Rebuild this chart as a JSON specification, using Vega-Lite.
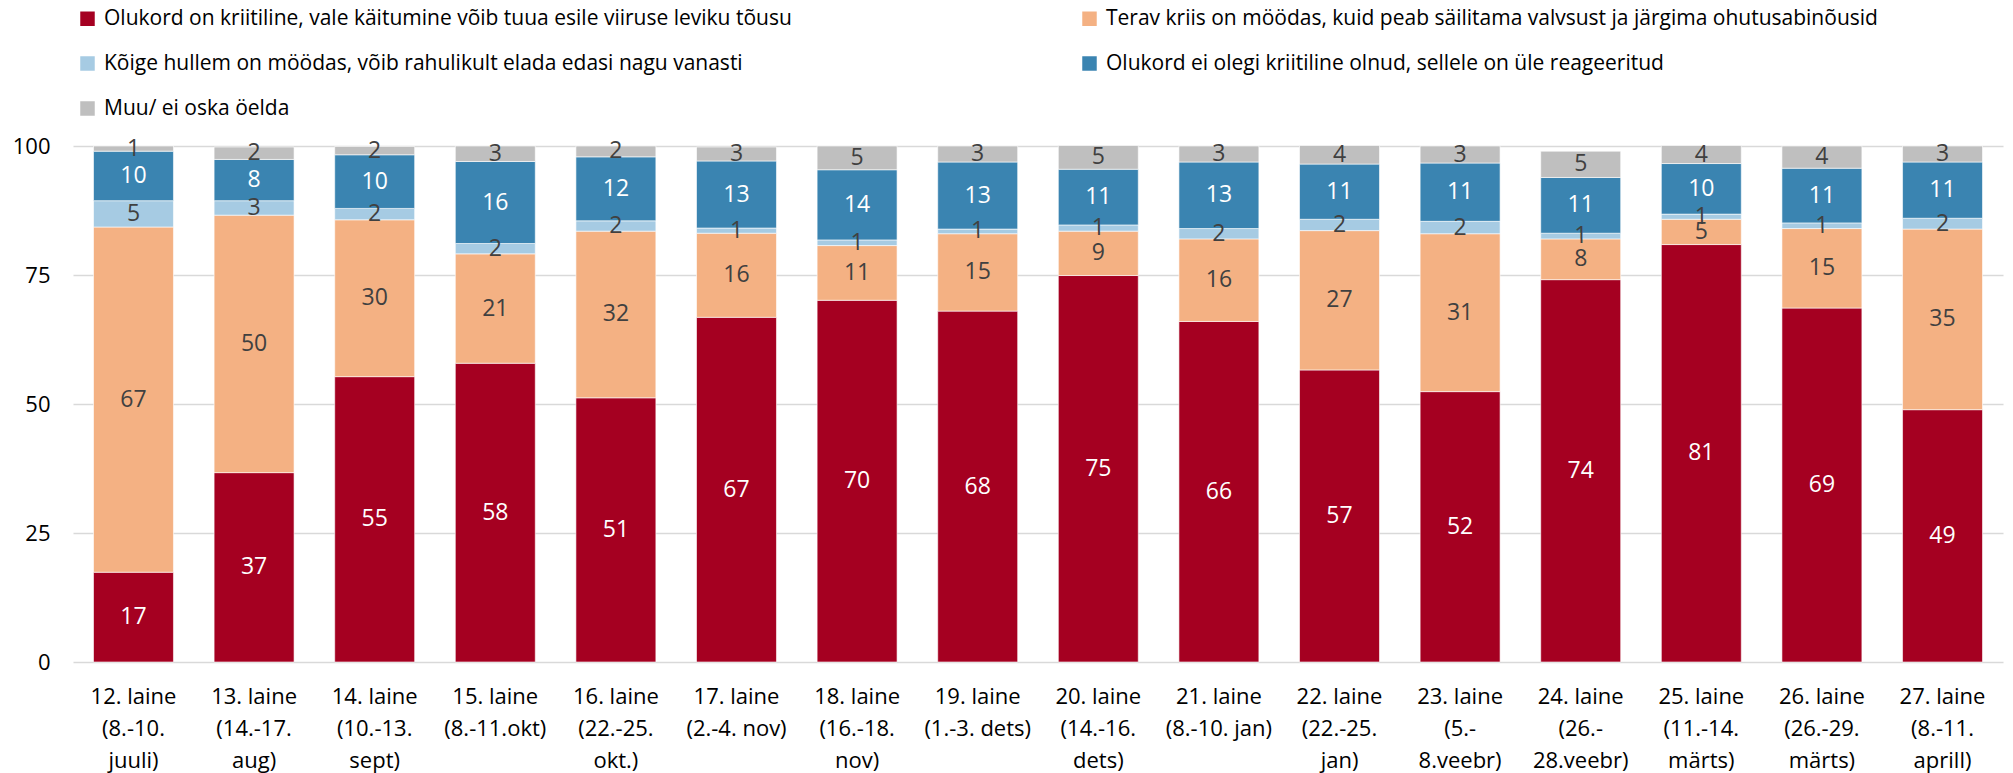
{
  "$schema": "https://vega.github.io/schema/vega-lite/v6.json",
  "width": 1930,
  "height": 516,
  "autosize": "none",
  "padding": {"left": 73, "top": 146, "right": 10, "bottom": 111},
  "config": {"view": {"stroke": null}, "font": "Open Sans"},
  "data": {
    "values": [
      {"wave": "12. laine|(8.-10.|juuli)", "cat": "Olukord on kriitiline, vale käitumine võib tuua esile viiruse leviku tõusu", "order": 1, "value": 17.4},
      {"wave": "12. laine|(8.-10.|juuli)", "cat": "Terav kriis on möödas, kuid peab säilitama valvsust ja järgima ohutusabinõusid", "order": 2, "value": 66.9},
      {"wave": "12. laine|(8.-10.|juuli)", "cat": "Kõige hullem on möödas, võib rahulikult elada edasi nagu vanasti", "order": 3, "value": 5.1},
      {"wave": "12. laine|(8.-10.|juuli)", "cat": "Olukord ei olegi kriitiline olnud, sellele on üle reageeritud", "order": 4, "value": 9.6},
      {"wave": "12. laine|(8.-10.|juuli)", "cat": "Muu/ ei oska öelda", "order": 5, "value": 1.0},

      {"wave": "13. laine|(14.-17.|aug)", "cat": "Olukord on kriitiline, vale käitumine võib tuua esile viiruse leviku tõusu", "order": 1, "value": 36.7},
      {"wave": "13. laine|(14.-17.|aug)", "cat": "Terav kriis on möödas, kuid peab säilitama valvsust ja järgima ohutusabinõusid", "order": 2, "value": 49.9},
      {"wave": "13. laine|(14.-17.|aug)", "cat": "Kõige hullem on möödas, võib rahulikult elada edasi nagu vanasti", "order": 3, "value": 2.8},
      {"wave": "13. laine|(14.-17.|aug)", "cat": "Olukord ei olegi kriitiline olnud, sellele on üle reageeritud", "order": 4, "value": 8.0},
      {"wave": "13. laine|(14.-17.|aug)", "cat": "Muu/ ei oska öelda", "order": 5, "value": 2.4},

      {"wave": "14. laine|(10.-13.|sept)", "cat": "Olukord on kriitiline, vale käitumine võib tuua esile viiruse leviku tõusu", "order": 1, "value": 55.3},
      {"wave": "14. laine|(10.-13.|sept)", "cat": "Terav kriis on möödas, kuid peab säilitama valvsust ja järgima ohutusabinõusid", "order": 2, "value": 30.4},
      {"wave": "14. laine|(10.-13.|sept)", "cat": "Kõige hullem on möödas, võib rahulikult elada edasi nagu vanasti", "order": 3, "value": 2.2},
      {"wave": "14. laine|(10.-13.|sept)", "cat": "Olukord ei olegi kriitiline olnud, sellele on üle reageeritud", "order": 4, "value": 10.4},
      {"wave": "14. laine|(10.-13.|sept)", "cat": "Muu/ ei oska öelda", "order": 5, "value": 1.6},

      {"wave": "15. laine|(8.-11.okt)", "cat": "Olukord on kriitiline, vale käitumine võib tuua esile viiruse leviku tõusu", "order": 1, "value": 57.9},
      {"wave": "15. laine|(8.-11.okt)", "cat": "Terav kriis on möödas, kuid peab säilitama valvsust ja järgima ohutusabinõusid", "order": 2, "value": 21.2},
      {"wave": "15. laine|(8.-11.okt)", "cat": "Kõige hullem on möödas, võib rahulikult elada edasi nagu vanasti", "order": 3, "value": 2.0},
      {"wave": "15. laine|(8.-11.okt)", "cat": "Olukord ei olegi kriitiline olnud, sellele on üle reageeritud", "order": 4, "value": 15.9},
      {"wave": "15. laine|(8.-11.okt)", "cat": "Muu/ ei oska öelda", "order": 5, "value": 3.0},

      {"wave": "16. laine|(22.-25.|okt.)", "cat": "Olukord on kriitiline, vale käitumine võib tuua esile viiruse leviku tõusu", "order": 1, "value": 51.2},
      {"wave": "16. laine|(22.-25.|okt.)", "cat": "Terav kriis on möödas, kuid peab säilitama valvsust ja järgima ohutusabinõusid", "order": 2, "value": 32.3},
      {"wave": "16. laine|(22.-25.|okt.)", "cat": "Kõige hullem on möödas, võib rahulikult elada edasi nagu vanasti", "order": 3, "value": 2.0},
      {"wave": "16. laine|(22.-25.|okt.)", "cat": "Olukord ei olegi kriitiline olnud, sellele on üle reageeritud", "order": 4, "value": 12.4},
      {"wave": "16. laine|(22.-25.|okt.)", "cat": "Muu/ ei oska öelda", "order": 5, "value": 2.1},

      {"wave": "17. laine|(2.-4. nov)", "cat": "Olukord on kriitiline, vale käitumine võib tuua esile viiruse leviku tõusu", "order": 1, "value": 66.8},
      {"wave": "17. laine|(2.-4. nov)", "cat": "Terav kriis on möödas, kuid peab säilitama valvsust ja järgima ohutusabinõusid", "order": 2, "value": 16.3},
      {"wave": "17. laine|(2.-4. nov)", "cat": "Kõige hullem on möödas, võib rahulikult elada edasi nagu vanasti", "order": 3, "value": 1.0},
      {"wave": "17. laine|(2.-4. nov)", "cat": "Olukord ei olegi kriitiline olnud, sellele on üle reageeritud", "order": 4, "value": 13.0},
      {"wave": "17. laine|(2.-4. nov)", "cat": "Muu/ ei oska öelda", "order": 5, "value": 2.7},

      {"wave": "18. laine|(16.-18.|nov)", "cat": "Olukord on kriitiline, vale käitumine võib tuua esile viiruse leviku tõusu", "order": 1, "value": 70.1},
      {"wave": "18. laine|(16.-18.|nov)", "cat": "Terav kriis on möödas, kuid peab säilitama valvsust ja järgima ohutusabinõusid", "order": 2, "value": 10.6},
      {"wave": "18. laine|(16.-18.|nov)", "cat": "Kõige hullem on möödas, võib rahulikult elada edasi nagu vanasti", "order": 3, "value": 1.1},
      {"wave": "18. laine|(16.-18.|nov)", "cat": "Olukord ei olegi kriitiline olnud, sellele on üle reageeritud", "order": 4, "value": 13.6},
      {"wave": "18. laine|(16.-18.|nov)", "cat": "Muu/ ei oska öelda", "order": 5, "value": 4.6},

      {"wave": "19. laine|(1.-3. dets)", "cat": "Olukord on kriitiline, vale käitumine võib tuua esile viiruse leviku tõusu", "order": 1, "value": 68.0},
      {"wave": "19. laine|(1.-3. dets)", "cat": "Terav kriis on möödas, kuid peab säilitama valvsust ja järgima ohutusabinõusid", "order": 2, "value": 15.0},
      {"wave": "19. laine|(1.-3. dets)", "cat": "Kõige hullem on möödas, võib rahulikult elada edasi nagu vanasti", "order": 3, "value": 0.9},
      {"wave": "19. laine|(1.-3. dets)", "cat": "Olukord ei olegi kriitiline olnud, sellele on üle reageeritud", "order": 4, "value": 13.0},
      {"wave": "19. laine|(1.-3. dets)", "cat": "Muu/ ei oska öelda", "order": 5, "value": 3.1},

      {"wave": "20. laine|(14.-16.|dets)", "cat": "Olukord on kriitiline, vale käitumine võib tuua esile viiruse leviku tõusu", "order": 1, "value": 74.9},
      {"wave": "20. laine|(14.-16.|dets)", "cat": "Terav kriis on möödas, kuid peab säilitama valvsust ja järgima ohutusabinõusid", "order": 2, "value": 8.6},
      {"wave": "20. laine|(14.-16.|dets)", "cat": "Kõige hullem on möödas, võib rahulikult elada edasi nagu vanasti", "order": 3, "value": 1.2},
      {"wave": "20. laine|(14.-16.|dets)", "cat": "Olukord ei olegi kriitiline olnud, sellele on üle reageeritud", "order": 4, "value": 10.8},
      {"wave": "20. laine|(14.-16.|dets)", "cat": "Muu/ ei oska öelda", "order": 5, "value": 4.6},

      {"wave": "21. laine|(8.-10. jan)", "cat": "Olukord on kriitiline, vale käitumine võib tuua esile viiruse leviku tõusu", "order": 1, "value": 66.0},
      {"wave": "21. laine|(8.-10. jan)", "cat": "Terav kriis on möödas, kuid peab säilitama valvsust ja järgima ohutusabinõusid", "order": 2, "value": 16.0},
      {"wave": "21. laine|(8.-10. jan)", "cat": "Kõige hullem on möödas, võib rahulikult elada edasi nagu vanasti", "order": 3, "value": 2.0},
      {"wave": "21. laine|(8.-10. jan)", "cat": "Olukord ei olegi kriitiline olnud, sellele on üle reageeritud", "order": 4, "value": 12.9},
      {"wave": "21. laine|(8.-10. jan)", "cat": "Muu/ ei oska öelda", "order": 5, "value": 3.1},

      {"wave": "22. laine|(22.-25.|jan)", "cat": "Olukord on kriitiline, vale käitumine võib tuua esile viiruse leviku tõusu", "order": 1, "value": 56.6},
      {"wave": "22. laine|(22.-25.|jan)", "cat": "Terav kriis on möödas, kuid peab säilitama valvsust ja järgima ohutusabinõusid", "order": 2, "value": 27.0},
      {"wave": "22. laine|(22.-25.|jan)", "cat": "Kõige hullem on möödas, võib rahulikult elada edasi nagu vanasti", "order": 3, "value": 2.2},
      {"wave": "22. laine|(22.-25.|jan)", "cat": "Olukord ei olegi kriitiline olnud, sellele on üle reageeritud", "order": 4, "value": 10.7},
      {"wave": "22. laine|(22.-25.|jan)", "cat": "Muu/ ei oska öelda", "order": 5, "value": 3.6},

      {"wave": "23. laine|(5.-|8.veebr)", "cat": "Olukord on kriitiline, vale käitumine võib tuua esile viiruse leviku tõusu", "order": 1, "value": 52.4},
      {"wave": "23. laine|(5.-|8.veebr)", "cat": "Terav kriis on möödas, kuid peab säilitama valvsust ja järgima ohutusabinõusid", "order": 2, "value": 30.6},
      {"wave": "23. laine|(5.-|8.veebr)", "cat": "Kõige hullem on möödas, võib rahulikult elada edasi nagu vanasti", "order": 3, "value": 2.4},
      {"wave": "23. laine|(5.-|8.veebr)", "cat": "Olukord ei olegi kriitiline olnud, sellele on üle reageeritud", "order": 4, "value": 11.3},
      {"wave": "23. laine|(5.-|8.veebr)", "cat": "Muu/ ei oska öelda", "order": 5, "value": 3.3},

      {"wave": "24. laine|(26.-|28.veebr)", "cat": "Olukord on kriitiline, vale käitumine võib tuua esile viiruse leviku tõusu", "order": 1, "value": 74.1},
      {"wave": "24. laine|(26.-|28.veebr)", "cat": "Terav kriis on möödas, kuid peab säilitama valvsust ja järgima ohutusabinõusid", "order": 2, "value": 7.9},
      {"wave": "24. laine|(26.-|28.veebr)", "cat": "Kõige hullem on möödas, võib rahulikult elada edasi nagu vanasti", "order": 3, "value": 1.1},
      {"wave": "24. laine|(26.-|28.veebr)", "cat": "Olukord ei olegi kriitiline olnud, sellele on üle reageeritud", "order": 4, "value": 10.8},
      {"wave": "24. laine|(26.-|28.veebr)", "cat": "Muu/ ei oska öelda", "order": 5, "value": 5.1},

      {"wave": "25. laine|(11.-14.|märts)", "cat": "Olukord on kriitiline, vale käitumine võib tuua esile viiruse leviku tõusu", "order": 1, "value": 80.9},
      {"wave": "25. laine|(11.-14.|märts)", "cat": "Terav kriis on möödas, kuid peab säilitama valvsust ja järgima ohutusabinõusid", "order": 2, "value": 4.9},
      {"wave": "25. laine|(11.-14.|märts)", "cat": "Kõige hullem on möödas, võib rahulikult elada edasi nagu vanasti", "order": 3, "value": 1.0},
      {"wave": "25. laine|(11.-14.|märts)", "cat": "Olukord ei olegi kriitiline olnud, sellele on üle reageeritud", "order": 4, "value": 9.8},
      {"wave": "25. laine|(11.-14.|märts)", "cat": "Muu/ ei oska öelda", "order": 5, "value": 3.5},

      {"wave": "26. laine|(26.-29.|märts)", "cat": "Olukord on kriitiline, vale käitumine võib tuua esile viiruse leviku tõusu", "order": 1, "value": 68.6},
      {"wave": "26. laine|(26.-29.|märts)", "cat": "Terav kriis on möödas, kuid peab säilitama valvsust ja järgima ohutusabinõusid", "order": 2, "value": 15.4},
      {"wave": "26. laine|(26.-29.|märts)", "cat": "Kõige hullem on möödas, võib rahulikult elada edasi nagu vanasti", "order": 3, "value": 1.1},
      {"wave": "26. laine|(26.-29.|märts)", "cat": "Olukord ei olegi kriitiline olnud, sellele on üle reageeritud", "order": 4, "value": 10.6},
      {"wave": "26. laine|(26.-29.|märts)", "cat": "Muu/ ei oska öelda", "order": 5, "value": 4.3},

      {"wave": "27. laine|(8.-11.|aprill)", "cat": "Olukord on kriitiline, vale käitumine võib tuua esile viiruse leviku tõusu", "order": 1, "value": 48.9},
      {"wave": "27. laine|(8.-11.|aprill)", "cat": "Terav kriis on möödas, kuid peab säilitama valvsust ja järgima ohutusabinõusid", "order": 2, "value": 35.0},
      {"wave": "27. laine|(8.-11.|aprill)", "cat": "Kõige hullem on möödas, võib rahulikult elada edasi nagu vanasti", "order": 3, "value": 2.1},
      {"wave": "27. laine|(8.-11.|aprill)", "cat": "Olukord ei olegi kriitiline olnud, sellele on üle reageeritud", "order": 4, "value": 10.9},
      {"wave": "27. laine|(8.-11.|aprill)", "cat": "Muu/ ei oska öelda", "order": 5, "value": 3.1}
    ]
  },
  "encoding": {
    "x": {
      "field": "wave",
      "type": "nominal",
      "sort": null,
      "scale": {"paddingInner": 0.337, "paddingOuter": 0.17},
      "axis": {
        "title": null,
        "labelAngle": 0,
        "labelExpr": "split(datum.value, '|')",
        "labelFontSize": 22,
        "labelLineHeight": 32,
        "labelColor": "#000000",
        "labelPadding": 24,
        "ticks": false,
        "domain": false,
        "labelLimit": 300
      }
    }
  },
  "layer": [
    {
      "mark": {"type": "bar", "stroke": "#ffffff", "strokeWidth": 0.6},
      "encoding": {
        "y": {
          "field": "value",
          "type": "quantitative",
          "stack": "zero",
          "scale": {"domain": [0, 100], "nice": false},
          "axis": {
            "title": null,
            "values": [0, 25, 50, 75, 100],
            "ticks": false,
            "domain": false,
            "labelFontSize": 22,
            "labelPadding": 23,
            "labelColor": "#000000",
            "gridColor": "#d9d9d9",
            "gridWidth": 1.5
          }
        },
        "color": {
          "field": "cat",
          "type": "nominal",
          "sort": null,
          "scale": {
            "domain": [
              "Olukord on kriitiline, vale käitumine võib tuua esile viiruse leviku tõusu",
              "Terav kriis on möödas, kuid peab säilitama valvsust ja järgima ohutusabinõusid",
              "Kõige hullem on möödas, võib rahulikult elada edasi nagu vanasti",
              "Olukord ei olegi kriitiline olnud, sellele on üle reageeritud",
              "Muu/ ei oska öelda"
            ],
            "range": ["#a50021", "#f4b183", "#a6cbe3", "#3a84b1", "#bfbfbf"]
          },
          "legend": {
            "title": null,
            "orient": "none",
            "legendX": 4,
            "legendY": -138,
            "direction": "horizontal",
            "columns": 2,
            "symbolType": "square",
            "symbolSize": 210,
            "symbolStrokeWidth": 0,
            "labelFontSize": 21,
            "labelColor": "#000000",
            "labelOffset": 6,
            "labelLimit": 1000,
            "rowPadding": 23,
            "columnPadding": 287
          }
        },
        "order": {"field": "order", "type": "quantitative"}
      }
    },
    {
      "transform": [
        {"stack": "value", "groupby": ["wave"], "sort": [{"field": "order", "order": "ascending"}], "as": ["y0", "y1"]},
        {"calculate": "(datum.y0 + datum.y1) / 2", "as": "mid"}
      ],
      "mark": {"type": "text", "fontSize": 23, "baseline": "middle", "align": "center"},
      "encoding": {
        "y": {"field": "mid", "type": "quantitative"},
        "text": {"field": "value", "type": "quantitative", "format": ".0f"},
        "color": {
          "condition": {"test": "datum.order == 1 || datum.order == 4", "value": "#ffffff"},
          "value": "#404040"
        }
      }
    }
  ]
}
